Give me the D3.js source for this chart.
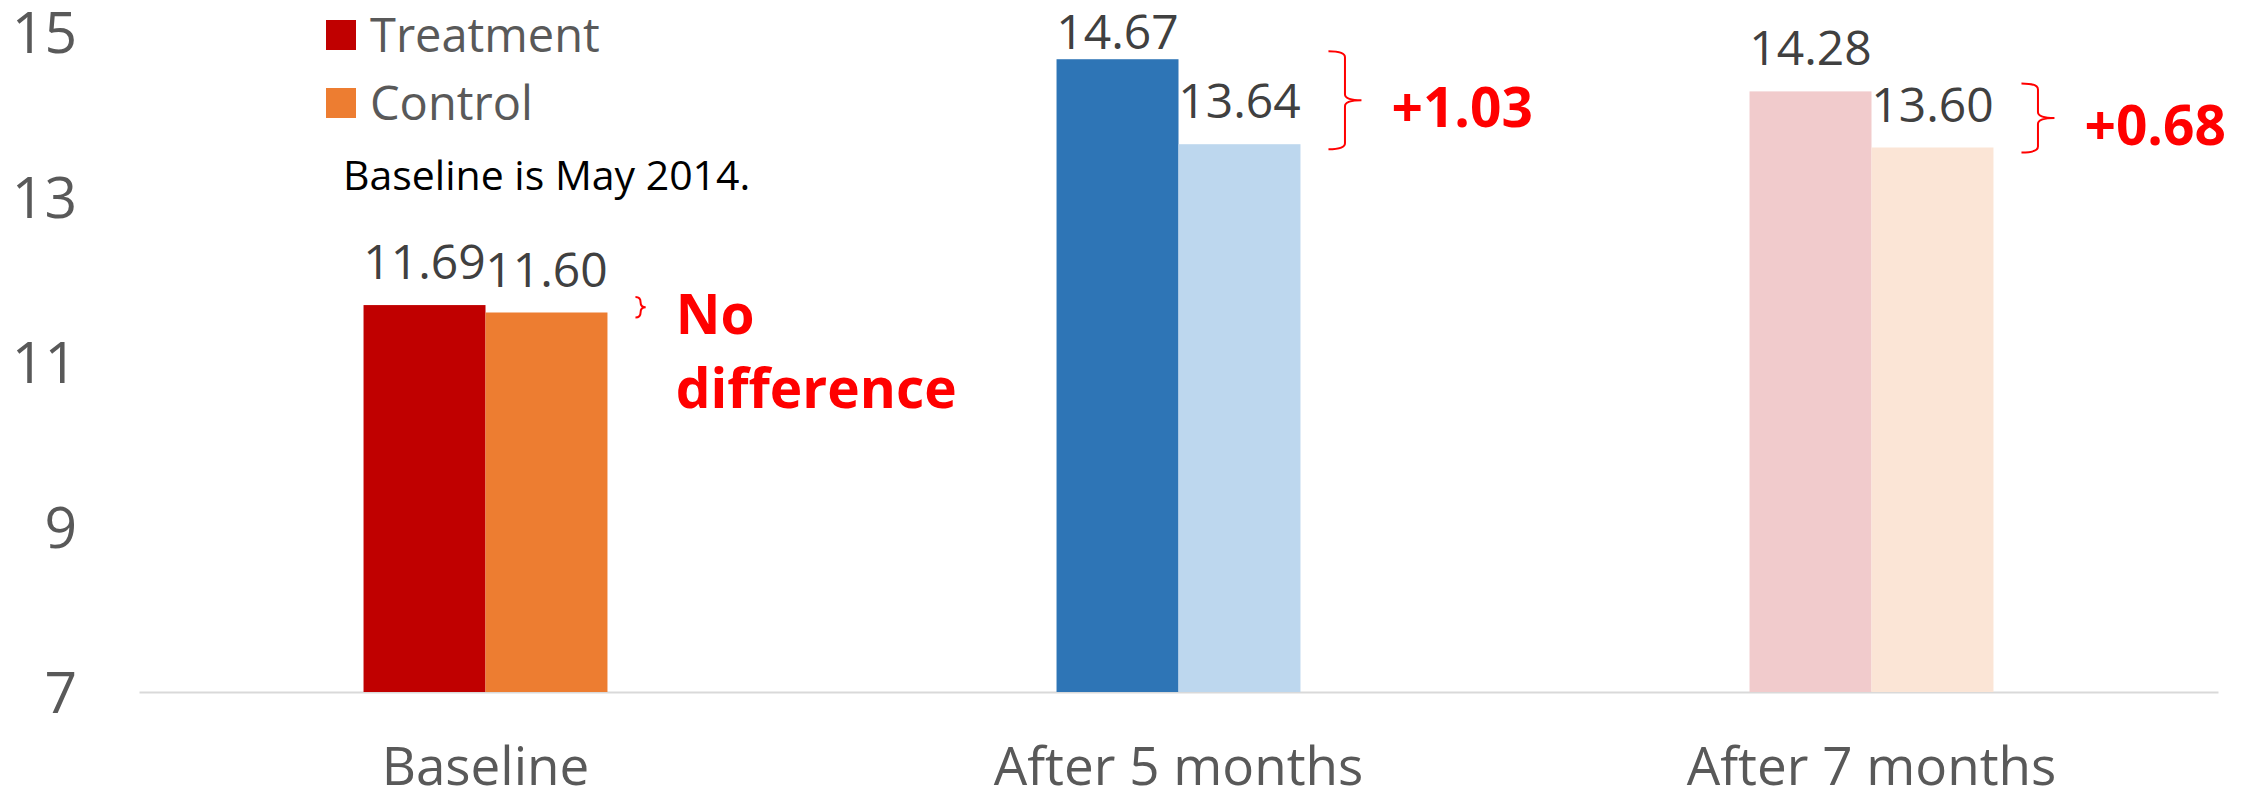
<html>
    <head>
        <script src="https://d3js.org/d3.v7.min.js"></script>
        <style>
            body { margin: 0; background: #fff; }
            text { font-family: "Open Sans", sans-serif; }
        </style>
    </head>
    <body>
        <svg id="chart" width="2260" height="799"></svg>
        <script>
            // data
            const categories = ['Baseline', 'After 5 months', 'After 7 months'];
            const series = ['Treatment', 'Control'];
            const treatment = [11.69, 14.67, 14.28];
            const control = [11.60, 13.64, 13.60];
            const yTicks = [7, 9, 11, 13, 15];
            const groupColors = [
                ['#C00000', '#ED7D31'],
                ['#2E75B6', '#BDD7EE'],
                ['#F1CBCC', '#FBE5D6']
            ];
            const annotations = [['No', 'difference'], ['+1.03'], ['+0.68']];
            const note = 'Baseline is May 2014.';

            const svg = d3.select('svg#chart');

            const x = d3.scaleBand()
                        .domain(categories)
                        .range([139, 2218])
                        .paddingInner(0.648)
                        .paddingOuter(0.324);
            const xs = d3.scaleBand()
                         .domain(series)
                         .range([0, x.bandwidth()]);
            const y = d3.scaleLinear().domain([7, 15]).range([692, 32]);

            // y axis labels
            const yAxis = svg.append('g')
                             .attr('transform', 'translate(77,0)')
                             .call(d3.axisLeft(y).tickValues(yTicks).tickSize(0).tickPadding(0));
            yAxis.select('.domain').remove();
            yAxis.selectAll('text')
                 .attr('fill', '#595959')
                 .style('font-size', '57px')
                 .attr('dy', '0.36em');

            // x axis
            const xAxis = svg.append('g')
                             .attr('transform', `translate(0,${y(7)})`)
                             .call(d3.axisBottom(x).tickSize(0).tickPadding(0));
            xAxis.select('.domain').attr('stroke', '#D9D9D9').attr('stroke-width', 2);
            xAxis.selectAll('text')
                 .attr('fill', '#595959')
                 .style('font-size', '53px')
                 .attr('y', 93)
                 .attr('dy', 0);

            const rows = categories.map((c, i) => ({
                cat: c, i: i,
                vals: [treatment[i], control[i]]
            }));

            const groups = svg.selectAll('g.grp').data(rows)
                              .join('g')
                              .attr('class', 'grp')
                              .attr('transform', d => `translate(${x(d.cat)},0)`);

            groups.selectAll('rect')
                  .data(d => d.vals.map((v, j) => ({v: v, s: series[j], c: groupColors[d.i][j]})))
                  .join('rect')
                  .attr('x', d => xs(d.s))
                  .attr('width', xs.bandwidth())
                  .attr('y', d => y(d.v))
                  .attr('height', d => y(7) - y(d.v))
                  .attr('fill', d => d.c);

            groups.selectAll('text.val')
                  .data(d => d.vals.map((v, j) => ({v: v, s: series[j]})))
                  .join('text')
                  .attr('class', 'val')
                  .attr('x', d => xs(d.s) + xs.bandwidth() / 2)
                  .attr('y', d => Math.max(y(d.v) - 26, 49))
                  .attr('text-anchor', 'middle')
                  .attr('fill', '#404040')
                  .style('font-size', '48px')
                  .text(d => d3.format('.2f')(d.v));

            // braces + difference notes
            function brace(x0, top, bot, w) {
                const mid = (top + bot) / 2;
                const xm = x0 + w / 2;
                const r = Math.min(6, (bot - top) / 4);
                return `M${x0},${top} Q${xm},${top} ${xm},${top + r} L${xm},${mid - r} Q${xm},${mid} ${x0 + w},${mid}` +
                       ` Q${xm},${mid} ${xm},${mid + r} L${xm},${bot - r} Q${xm},${bot} ${x0},${bot}`;
            }

            rows.forEach((d, i) => {
                const top = y(treatment[i]) - 8;
                const bot = y(control[i]) + 5;
                const h = bot - top;
                const w = Math.min(33, h / 2);
                const x0 = x(d.cat) + x.bandwidth() + 28;
                const mid = (top + bot) / 2;
                svg.append('path')
                   .attr('d', brace(x0, top, bot, w))
                   .attr('fill', 'none')
                   .attr('stroke', '#FF0000')
                   .attr('stroke-width', 2);
                const t = svg.append('text')
                             .attr('x', x0 + w + 30)
                             .attr('y', mid + 27)
                             .attr('fill', '#FF0000')
                             .attr('font-weight', 'bold')
                             .style('font-size', '55px');
                annotations[i].forEach((line, k) => {
                    t.append('tspan')
                     .attr('x', x0 + w + 30)
                     .attr('dy', k == 0 ? 0 : 74)
                     .text(line);
                });
            });

            // legend
            const legend = svg.append('g').attr('transform', 'translate(326,20)');
            series.forEach((s, j) => {
                legend.append('rect')
                      .attr('x', 0).attr('y', j * 68)
                      .attr('width', 30).attr('height', 30)
                      .attr('fill', groupColors[0][j]);
                legend.append('text')
                      .attr('x', 44).attr('y', j * 68 + 32)
                      .attr('fill', '#595959')
                      .style('font-size', '47px')
                      .text(s);
            });

            svg.append('text')
               .attr('x', 343).attr('y', 190)
               .attr('fill', '#000')
               .style('font-size', '41px')
               .text(note);
        </script>
    </body>
</html>
